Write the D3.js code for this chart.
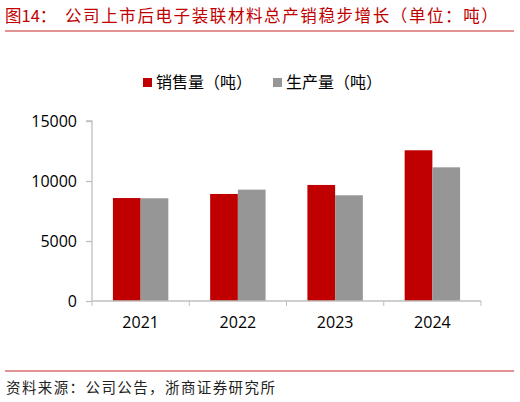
<!DOCTYPE html>
<html>
<head>
<meta charset="utf-8">
<script src="https://cdn.jsdelivr.net/npm/d3@7"></script>
<style>
  body { margin: 0; background: #fff; }
  svg { display: block; }
</style>
</head>
<body>
<div class="container"></div>
<script>
const years = ['2021', '2022', '2023', '2024'];
const seriesNames = ['销售量（吨）', '生产量（吨）'];
const sales = [8580, 8920, 9670, 12560];
const production = [8560, 9280, 8810, 11140];
const yTicks = [0, 5000, 10000, 15000];
const colors = ['#c00000', '#969696'];

const width = 520;
const height = 402;
const cjk = '"Noto Sans CJK SC", "Noto Sans", sans-serif';
const latin = '"Open Sans", "Noto Sans", sans-serif';

const svg = d3.select('.container')
  .append('svg')
  .attr('width', width)
  .attr('height', height);

// title + rules
svg.append('text')
  .attr('x', 5)
  .attr('y', 22)
  .attr('fill', '#c00000')
  .style('font-family', cjk)
  .style('font-size', '16.5px')
  .text('图14：');

svg.append('text')
  .attr('x', 65)
  .attr('y', 22)
  .attr('fill', '#c00000')
  .style('font-family', cjk)
  .style('font-size', '16.5px')
  .style('letter-spacing', '1.6px')
  .text('公司上市后电子装联材料总产销稳步增长（单位：吨）');

svg.append('line')
  .attr('x1', 5).attr('x2', 514)
  .attr('y1', 31).attr('y2', 31)
  .attr('stroke', '#c8262b').attr('stroke-width', 1);

svg.append('line')
  .attr('x1', 5).attr('x2', 514)
  .attr('y1', 371).attr('y2', 371)
  .attr('stroke', '#c8262b').attr('stroke-width', 1);

svg.append('text')
  .attr('x', 6)
  .attr('y', 393)
  .attr('fill', '#222')
  .style('font-family', cjk)
  .style('font-size', '14.5px')
  .style('letter-spacing', '1.4px')
  .text('资料来源：公司公告，浙商证券研究所');

// scales
const x0 = d3.scaleBand()
  .domain(years)
  .range([92, 481])
  .paddingInner(0.43)
  .paddingOuter(0.215);

const x1 = d3.scaleBand()
  .domain([0, 1])
  .range([0, x0.bandwidth()]);

const y = d3.scaleLinear()
  .domain([0, 15000])
  .range([301, 121]);

// bars
const rows = years.map((yr, i) => ({ year: yr, vals: [sales[i], production[i]] }));

const groups = svg.append('g')
  .selectAll('g')
  .data(rows)
  .join('g')
  .attr('transform', d => `translate(${x0(d.year)},0)`);

groups.selectAll('rect')
  .data(d => d.vals.map((v, k) => ({ k, v })))
  .join('rect')
  .attr('x', d => x1(d.k))
  .attr('y', d => y(d.v))
  .attr('width', x1.bandwidth())
  .attr('height', d => y(0) - y(d.v))
  .attr('fill', d => colors[d.k]);

// axes
const yAxis = svg.append('g')
  .attr('transform', 'translate(92,0)')
  .call(d3.axisLeft(y).tickValues(yTicks).tickSize(6).tickPadding(9).tickFormat(d3.format('d')));

const xAxis = svg.append('g')
  .attr('transform', 'translate(0,301)')
  .call(d3.axisBottom(x0).tickSize(0).tickPadding(16));

// category boundary ticks like Excel
const step = x0.step();
const bounds = d3.range(years.length + 1).map(i => 92 + i * step);
xAxis.selectAll('.bound')
  .data(bounds)
  .join('line')
  .attr('class', 'bound')
  .attr('x1', d => d).attr('x2', d => d)
  .attr('y1', 0).attr('y2', 5)
  .attr('stroke', '#bfbfbf');

[yAxis, xAxis].forEach(a => {
  a.select('.domain').attr('stroke', '#bfbfbf').attr('stroke-width', 1.3);
  a.selectAll('.tick line').attr('stroke', '#bfbfbf').attr('stroke-width', 1.3);
  a.selectAll('text')
    .attr('fill', '#000')
    .style('font-family', latin)
    .style('font-size', '16px');
});
yAxis.select('.domain').attr('d', 'M-6,121H0V301');
xAxis.select('.domain').attr('d', 'M92,0H481');

// legend
const legend = svg.append('g');
const legendX = [143, 273];
seriesNames.forEach((name, i) => {
  legend.append('rect')
    .attr('x', legendX[i]).attr('y', 78)
    .attr('width', 9).attr('height', 9)
    .attr('fill', colors[i]);
  legend.append('text')
    .attr('x', legendX[i] + 13)
    .attr('y', 88)
    .attr('fill', '#000')
    .style('font-family', cjk)
    .style('font-size', '16px')
    .text(name);
});
</script>
</body>
</html>
